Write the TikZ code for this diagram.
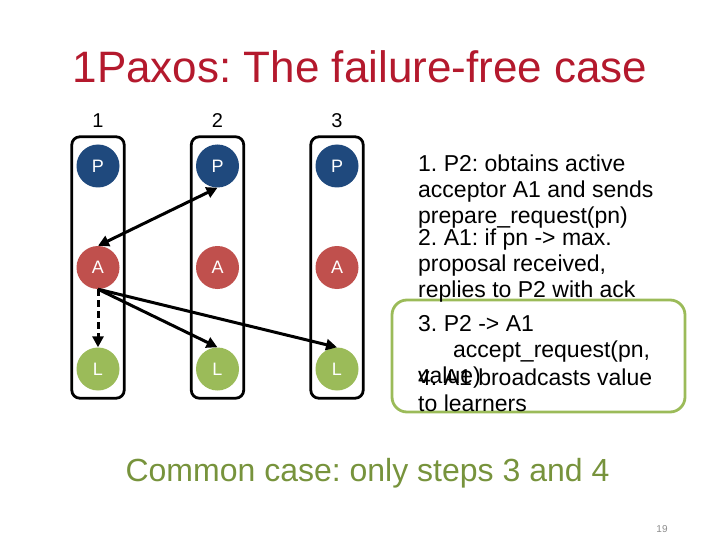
\documentclass[tikz,border=0pt]{standalone}
\usepackage{fontspec}
\setmainfont{Liberation Sans}
\frenchspacing
\usetikzlibrary{positioning,fit,arrows.meta}
\definecolor{propblue}{RGB}{31,73,125}
\definecolor{accred}{RGB}{192,80,77}
\definecolor{learngreen}{RGB}{155,187,89}
\definecolor{titlered}{RGB}{180,25,45}
\definecolor{olivetext}{RGB}{119,147,60}

\begin{document}
\begin{tikzpicture}[x=1pt,y=-1pt,node distance=101.5pt and 119.5pt,on grid,
    role/.style={circle,minimum size=43pt,inner sep=0pt,text=white,font=\fontsize{18}{20}\selectfont},
    prop/.style={role,fill=propblue},
    acc/.style={role,fill=accred},
    learn/.style={role,fill=learngreen},
    colbox/.style={draw,line width=2.8pt,rounded corners=8pt,inner xsep=4.5pt,inner ysep=7.5pt},
    colnum/.style={font=\fontsize{20}{24}\selectfont},
    msg/.style={line width=3pt,-{Triangle[length=11pt,width=11pt]}},
    stepnote/.style={anchor=base west,align=left,inner sep=0pt,font=\fontsize{23}{26}\selectfont}]
  \useasboundingbox (0,0) rectangle (720,540);

  \node[text=titlered,anchor=base,font=\fontsize{44}{50}\selectfont] (title) at (360,83) {1Paxos: The failure-free case};

  % proposers, acceptors, learners
  \node[prop] (p1) at (98,166) {P};
  \node[prop] (p2) [right=of p1] {P};
  \node[prop] (p3) [right=of p2] {P};
  \node[acc] (a1) [below=of p1] {A};
  \node[acc] (a2) [right=of a1] {A};
  \node[acc] (a3) [right=of a2] {A};
  \node[learn] (l1) [below=of a1] {L};
  \node[learn] (l2) [right=of l1] {L};
  \node[learn] (l3) [right=of l2] {L};

  \node[colbox,fit=(p1)(l1)] (c1) {};
  \node[colbox,fit=(p2)(l2)] (c2) {};
  \node[colbox,fit=(p3)(l3)] (c3) {};
  \node[colnum] (n1) [above=4pt of c1.north] {1};
  \node[colnum] (n2) [above=4pt of c2.north] {2};
  \node[colnum] (n3) [above=4pt of c3.north] {3};

  \draw[msg,{Triangle[length=11pt,width=11pt]}-{Triangle[length=11pt,width=11pt]}] (a1.north) -- (p2.south);
  \path[msg]
    (a1.south)
    edge [dash pattern=on 7pt off 4pt] (l1.north)
    edge (l2.north)
    edge (l3.north);

  % steps (base = last line)
  \node[draw=learngreen,line width=2.8pt,rounded corners=15pt,minimum width=293pt,minimum height=112pt] (highlight) at (538.5,356) {};
  \node[stepnote] (s1) at (418,224) {1. P2: obtains active\\acceptor A1 and sends\\prepare\_request(pn)};
  \node[stepnote] (s2) at (418,297) {2. A1: if pn -> max.\\proposal received,\\replies to P2 with ack};
  \node[stepnote] (s3) at (418,383) {3. P2 -> A1\\\hspace*{35pt}accept\_request(pn,\\value)};
  \node[stepnote] (s4) at (418,411) {4. A1 broadcasts value\\to learners};

  \node[text=olivetext,anchor=base,font=\fontsize{32}{38}\selectfont] (common) at (367.5,481) {Common case: only steps 3 and 4};
  \node[text=black!45,anchor=base,font=\fontsize{10}{12}\selectfont] (pagenum) at (662,532) {19};
\end{tikzpicture}
\end{document}
